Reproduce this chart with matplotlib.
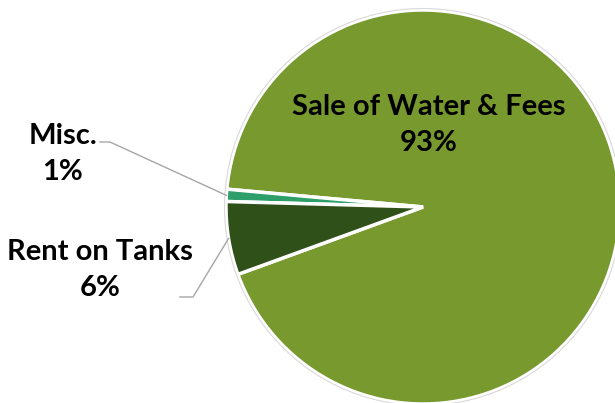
import numpy as np
import matplotlib.pyplot as plt

labels = ['Sale of Water & Fees', 'Misc.', 'Rent on Tanks']
shares = [93, 1, 6]
colors = ['#77992E', '#2E9E6B', '#2F5019']

plt.rcParams['font.family'] = ['Lato', 'DejaVu Sans']

fig = plt.figure(figsize=(6.15, 4.03), dpi=100)
ax = fig.add_axes([0, 0, 1, 1])

# pixel-like coordinates: pie centre and radius
cx, cy, r = 423, 196, 197
wedges, _ = ax.pie(shares, colors=colors, startangle=200, counterclock=True,
                   center=(cx, cy), radius=r,
                   wedgeprops=dict(edgecolor='white', linewidth=2.5))
# faint outline round the pie
circ = plt.Circle((cx, cy), r + 1.5, fill=False, edgecolor='#D9D9D9', linewidth=0.8)
ax.add_patch(circ)

ax.set_xlim(0, 615)
ax.set_ylim(0, 403)
ax.set_aspect('equal')
ax.axis('off')

def edge_point(w):
    a = np.deg2rad((w.theta1 + w.theta2) / 2)
    return cx + r * np.cos(a), cy + r * np.sin(a)

pct = [f'{s}%' for s in shares]
txt = dict(ha='center', va='center', fontsize=21, fontweight='bold', color='black',
           linespacing=1.5)

ax.text(429, 278, f'{labels[0]}\n{pct[0]}', **txt)
ax.text(63, 249, f'{labels[1]}\n{pct[1]}', **txt)
ax.text(100, 133, f'{labels[2]}\n{pct[2]}', **txt)

# leader lines
ex, ey = edge_point(wedges[1])
ax.plot([100, 110, ex], [261, 261, ey], color='#A6A6A6', lw=1)
ex, ey = edge_point(wedges[2])
ax.plot([180, 193, ex], [106, 106, ey], color='#A6A6A6', lw=1)

fig.savefig('out.png', dpi=100)
